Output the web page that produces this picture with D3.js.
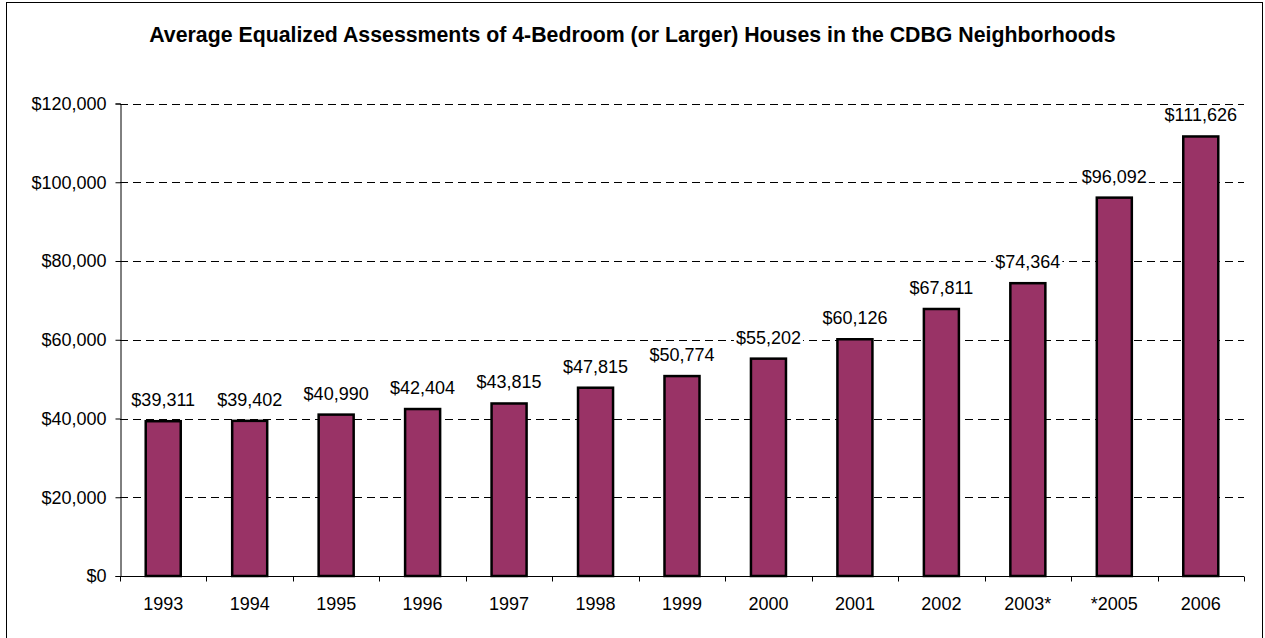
<!DOCTYPE html>
<html><head><meta charset="utf-8">
<script src="https://cdn.jsdelivr.net/npm/d3@7"></script>
<style>
body{margin:0;background:#fff}
text{font-family:"Liberation Sans",Arial,sans-serif;fill:#000}
</style></head>
<body><svg id="c" width="1265" height="638"></svg>
<script>
const title = "Average Equalized Assessments of 4-Bedroom (or Larger) Houses in the CDBG Neighborhoods";
const categories = ["1993","1994","1995","1996","1997","1998","1999","2000","2001","2002","2003*","*2005","2006"];
const values = [39311,39402,40990,42404,43815,47815,50774,55202,60126,67811,74364,96092,111626];
const yTicks = [0,20000,40000,60000,80000,100000,120000];

const svg = d3.select("#c");
const L = 120, R = 1244, T = 103.5, B = 576;

svg.append("rect").attr("x",6.5).attr("y",2.5).attr("width",1256).attr("height",660)
  .attr("fill","#fff").attr("stroke","#000").attr("stroke-width",1);

svg.append("text").attr("x",632.5).attr("y",41.5).attr("text-anchor","middle")
  .style("font-weight","bold").style("font-size","21.3px").text(title);

const x = d3.scaleBand().domain(categories).range([L,R]).paddingInner(0.595).paddingOuter(0.2975);
const y = d3.scaleLinear().domain([0,120000]).range([B,T]);
const fmt = d => "$" + d3.format(",")(d);

// gridlines
svg.append("g").selectAll("line").data(yTicks.filter(d=>d>0)).join("line")
  .attr("x1",L).attr("x2",R).attr("y1",d=>Math.round(y(d))+0.5).attr("y2",d=>Math.round(y(d))+0.5)
  .attr("stroke","#000").attr("stroke-width",1).attr("stroke-dasharray","8,5");

// y axis
const ya = svg.append("g").attr("transform",`translate(${L+0.5},0)`)
  .call(d3.axisLeft(y).tickValues(yTicks).tickSize(5).tickPadding(9).tickFormat(fmt));
ya.select(".domain").attr("stroke","#000");
ya.selectAll(".tick line").attr("stroke","#000");
ya.selectAll("text").style("font-size","18px").style("font-family","'Liberation Sans',Arial,sans-serif").attr("fill","#000");

// x axis
const xa = svg.append("g").attr("transform",`translate(0,${Math.round(B)+0.5})`);
xa.append("line").attr("x1",L).attr("x2",R).attr("stroke","#000");
const bounds = d3.range(categories.length+1).map(i => L + i*x.step());
xa.selectAll(".tk").data(bounds).join("line").attr("class","tk")
  .attr("x1",d=>Math.round(d)+0.5).attr("x2",d=>Math.round(d)+0.5).attr("y1",0).attr("y2",5).attr("stroke","#000");
xa.selectAll("text").data(categories).join("text")
  .attr("x",d=>x(d)+x.bandwidth()/2).attr("y",33).attr("text-anchor","middle")
  .style("font-size","18px").text(d=>d);

// bars
svg.append("g").selectAll("rect").data(values).join("rect")
  .attr("x",(d,i)=>x(categories[i])).attr("width",x.bandwidth())
  .attr("y",d=>y(d)).attr("height",d=>y(0)-y(d))
  .attr("fill","#993366").attr("stroke","#000").attr("stroke-width",2.5);

// value labels with white background
const lg = svg.append("g");
values.forEach((v,i)=>{
  const g = lg.append("g");
  const t = g.append("text").attr("x",x(categories[i])+x.bandwidth()/2).attr("y",y(v)-15)
    .attr("text-anchor","middle").style("font-size","18px").text(fmt(v));
  const bb = t.node().getBBox();
  g.insert("rect","text").attr("x",bb.x-2).attr("y",bb.y).attr("width",bb.width+4).attr("height",bb.height).attr("fill","#fff");
});
</script></body></html>
